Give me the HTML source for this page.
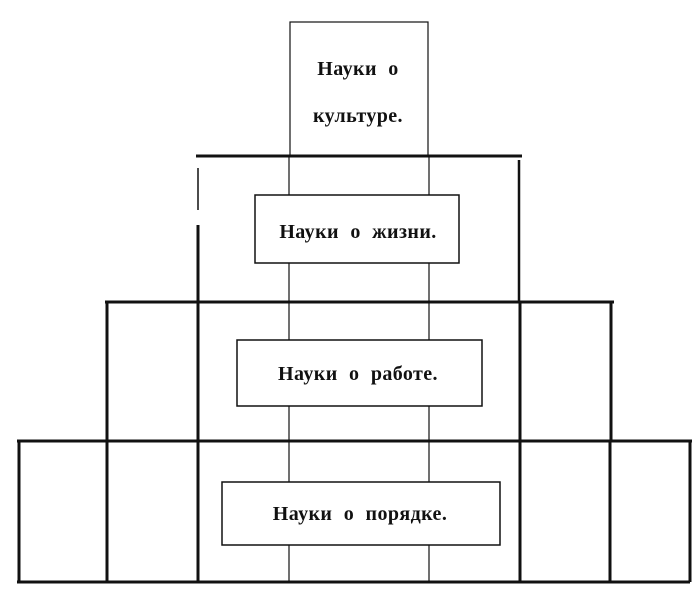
<!DOCTYPE html>
<html><head><meta charset="utf-8"><style>
html,body{margin:0;padding:0;background:#fff;width:700px;height:602px;overflow:hidden}
text{font-family:"Liberation Serif","Noto Serif CJK SC",serif;font-weight:bold;font-size:20px;fill:#111;letter-spacing:0.4px;word-spacing:6px}
</style></head><body>
<svg width="700" height="602" viewBox="0 0 700 602" xmlns="http://www.w3.org/2000/svg">
<g stroke="#111" fill="none">
<rect x="290" y="22" width="138" height="134" stroke-width="1.2"/>
<line x1="196" y1="156" x2="522" y2="156" stroke-width="3"/>
<line x1="105" y1="302" x2="614" y2="302" stroke-width="3"/>
<line x1="17" y1="441" x2="692" y2="441" stroke-width="3"/>
<line x1="17" y1="582" x2="690" y2="582" stroke-width="3"/>
<line x1="198" y1="225" x2="198" y2="302" stroke-width="3"/>
<line x1="198" y1="168" x2="198" y2="210" stroke-width="1.5"/>
<line x1="519" y1="160" x2="519" y2="302" stroke-width="2.5"/>
<line x1="107" y1="302" x2="107" y2="441" stroke-width="3"/>
<line x1="198" y1="302" x2="198" y2="582" stroke-width="3"/>
<line x1="520" y1="302" x2="520" y2="582" stroke-width="3"/>
<line x1="611" y1="302" x2="611" y2="441" stroke-width="3"/>
<line x1="19" y1="441" x2="19" y2="582" stroke-width="3"/>
<line x1="107" y1="441" x2="107" y2="582" stroke-width="3"/>
<line x1="610" y1="441" x2="610" y2="582" stroke-width="3"/>
<line x1="690" y1="441" x2="690" y2="582" stroke-width="3"/>
<line x1="289" y1="156" x2="289" y2="582" stroke-width="1.2"/>
<line x1="429" y1="156" x2="429" y2="582" stroke-width="1.2"/>
</g>
<g stroke="#111" fill="#fff" stroke-width="1.5">
<rect x="255" y="195" width="204" height="68"/>
<rect x="237" y="340" width="245" height="66"/>
<rect x="222" y="482" width="278" height="63"/>
</g>
<text x="358" y="75" text-anchor="middle">Науки о</text>
<text x="358" y="122" text-anchor="middle">культуре.</text>
<text x="358" y="238" text-anchor="middle">Науки о жизни.</text>
<text x="358" y="380" text-anchor="middle">Науки о работе.</text>
<text x="360" y="520" text-anchor="middle">Науки о порядке.</text>
</svg>
</body></html>
